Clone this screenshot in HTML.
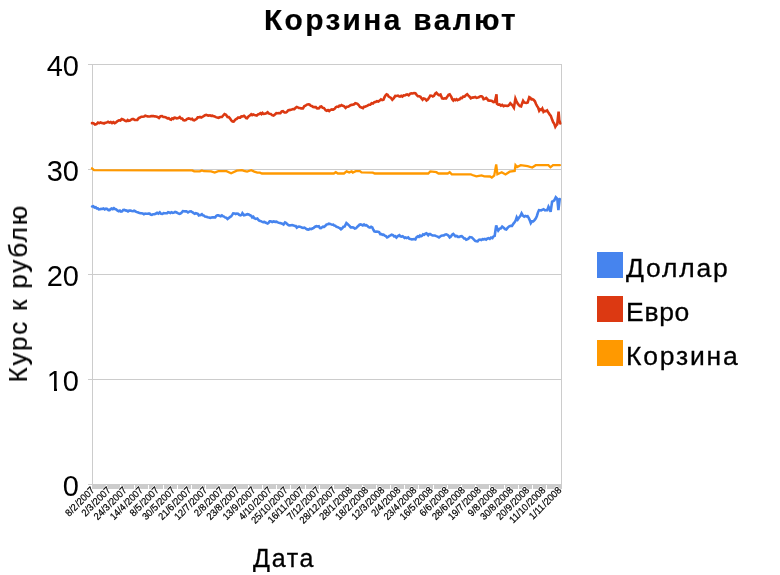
<!DOCTYPE html><html><head><meta charset="utf-8"><style>html,body{margin:0;padding:0;background:#fff;width:780px;height:575px;overflow:hidden}svg{display:block}text{font-family:"Liberation Sans",sans-serif}</style></head><body>
<svg width="780" height="575" viewBox="0 0 780 575">
<rect width="780" height="575" fill="#fff"/>
<rect x="88" y="64" width="474" height="1" fill="#cccccc"/>
<rect x="88" y="169" width="474" height="1" fill="#cccccc"/>
<rect x="88" y="274" width="474" height="1" fill="#cccccc"/>
<rect x="88" y="379" width="474" height="1" fill="#cccccc"/>
<rect x="88" y="484" width="474" height="1" fill="#cccccc"/>
<rect x="92" y="64" width="1" height="421" fill="#cccccc"/>
<rect x="561" y="64" width="1" height="421" fill="#cccccc"/>
<rect x="92" y="485" width="470" height="4" fill="#cccccc"/>
<rect x="106" y="485" width="1" height="4" fill="#fff"/>
<rect x="120" y="485" width="1" height="4" fill="#fff"/>
<rect x="134" y="485" width="1" height="4" fill="#fff"/>
<rect x="148" y="485" width="1" height="4" fill="#fff"/>
<rect x="163" y="485" width="1" height="4" fill="#fff"/>
<rect x="177" y="485" width="1" height="4" fill="#fff"/>
<rect x="191" y="485" width="1" height="4" fill="#fff"/>
<rect x="205" y="485" width="1" height="4" fill="#fff"/>
<rect x="219" y="485" width="1" height="4" fill="#fff"/>
<rect x="234" y="485" width="1" height="4" fill="#fff"/>
<rect x="248" y="485" width="1" height="4" fill="#fff"/>
<rect x="262" y="485" width="1" height="4" fill="#fff"/>
<rect x="276" y="485" width="1" height="4" fill="#fff"/>
<rect x="290" y="485" width="1" height="4" fill="#fff"/>
<rect x="305" y="485" width="1" height="4" fill="#fff"/>
<rect x="319" y="485" width="1" height="4" fill="#fff"/>
<rect x="333" y="485" width="1" height="4" fill="#fff"/>
<rect x="347" y="485" width="1" height="4" fill="#fff"/>
<rect x="362" y="485" width="1" height="4" fill="#fff"/>
<rect x="376" y="485" width="1" height="4" fill="#fff"/>
<rect x="390" y="485" width="1" height="4" fill="#fff"/>
<rect x="404" y="485" width="1" height="4" fill="#fff"/>
<rect x="418" y="485" width="1" height="4" fill="#fff"/>
<rect x="433" y="485" width="1" height="4" fill="#fff"/>
<rect x="447" y="485" width="1" height="4" fill="#fff"/>
<rect x="461" y="485" width="1" height="4" fill="#fff"/>
<rect x="475" y="485" width="1" height="4" fill="#fff"/>
<rect x="489" y="485" width="1" height="4" fill="#fff"/>
<rect x="504" y="485" width="1" height="4" fill="#fff"/>
<rect x="518" y="485" width="1" height="4" fill="#fff"/>
<rect x="532" y="485" width="1" height="4" fill="#fff"/>
<rect x="546" y="485" width="1" height="4" fill="#fff"/>
<path d="M92.0,123.1 L93.5,123.2 L95.0,124.5 L96.5,124.1 L98.0,122.6 L99.2,123.1 L100.5,122.5 L101.8,123.0 L103.0,123.1 L104.0,123.5 L105.3,122.8 L106.7,122.5 L108.0,121.7 L109.3,122.6 L110.7,122.0 L112.0,123.1 L113.3,122.1 L114.7,123.1 L116.0,122.3 L117.5,121.2 L119.0,120.3 L120.3,120.5 L121.7,119.0 L123.0,119.5 L124.2,120.2 L125.5,121.0 L126.6,121.1 L127.7,120.0 L128.8,120.9 L129.9,120.6 L131.0,119.7 L132.2,119.0 L133.5,119.1 L134.8,120.0 L136.0,120.0 L137.3,119.9 L138.7,118.1 L140.0,117.5 L141.3,116.7 L142.7,116.7 L144.0,116.5 L145.2,115.7 L146.4,116.1 L147.6,116.4 L148.8,116.5 L150.0,116.5 L151.2,116.1 L152.4,116.1 L153.6,116.1 L154.8,116.4 L156.0,116.5 L157.5,116.9 L159.0,118.0 L160.5,116.2 L162.0,116.0 L163.3,117.0 L164.7,117.0 L166.0,117.4 L167.4,118.3 L168.7,118.2 L170.1,119.4 L171.1,119.7 L172.2,118.4 L173.3,118.9 L174.4,117.6 L175.5,117.8 L176.6,118.4 L177.7,118.2 L178.8,117.8 L179.8,117.0 L181.0,118.5 L182.2,118.6 L183.3,120.1 L184.5,120.4 L185.9,120.0 L187.2,118.8 L188.6,118.4 L189.8,118.7 L191.0,119.3 L192.2,118.8 L193.2,120.2 L194.2,120.4 L195.3,119.7 L196.5,119.0 L197.7,117.4 L198.8,117.4 L200.0,116.9 L201.2,117.6 L202.4,117.0 L203.7,116.0 L205.0,115.3 L206.3,114.8 L207.6,115.4 L208.8,115.6 L210.1,115.3 L211.1,115.8 L212.2,115.6 L213.2,116.0 L214.6,116.4 L215.9,117.1 L217.3,117.6 L218.5,117.9 L219.6,117.3 L220.8,117.0 L221.9,117.0 L223.2,115.5 L224.5,114.0 L226.0,114.7 L227.5,117.0 L228.8,117.1 L230.1,118.6 L231.3,120.4 L232.5,121.5 L233.6,121.6 L234.7,120.3 L235.7,119.3 L236.8,118.8 L238.0,117.6 L239.1,117.6 L240.2,117.7 L241.4,116.3 L242.7,116.5 L244.0,115.8 L245.0,116.7 L246.1,118.0 L247.1,118.3 L248.5,116.5 L249.8,115.6 L251.2,114.2 L252.2,115.1 L253.2,114.5 L254.4,115.0 L255.6,115.2 L256.8,115.6 L258.0,114.4 L259.2,114.1 L260.4,113.2 L261.4,114.2 L262.5,112.9 L263.5,113.9 L264.9,113.8 L266.2,113.3 L267.6,112.2 L268.6,113.4 L269.7,113.7 L270.7,113.9 L272.1,115.2 L273.5,115.6 L274.9,114.4 L276.3,113.2 L277.7,113.3 L279.0,113.1 L280.4,113.2 L281.7,111.5 L283.0,111.2 L284.5,112.4 L286.0,112.5 L287.0,111.8 L288.1,110.4 L289.1,110.1 L290.4,109.9 L291.7,109.6 L293.0,109.1 L294.3,109.1 L295.6,107.8 L296.8,107.0 L297.8,107.4 L298.9,107.9 L299.9,108.1 L300.9,108.4 L302.0,108.2 L303.0,108.4 L304.2,106.3 L305.5,105.7 L306.9,104.6 L308.4,104.3 L309.5,104.4 L310.6,105.6 L311.7,106.0 L313.1,106.9 L314.4,107.1 L315.8,107.0 L316.8,108.2 L317.8,108.4 L319.0,108.3 L320.2,106.7 L321.4,106.5 L322.7,107.8 L324.0,108.1 L325.6,110.3 L326.8,110.8 L328.0,110.1 L329.2,111.0 L330.6,109.8 L331.9,109.4 L333.3,109.7 L334.6,108.9 L335.8,107.2 L337.1,106.6 L338.4,106.9 L339.4,105.7 L340.5,105.9 L341.5,105.1 L342.9,105.8 L344.2,106.3 L345.6,107.9 L346.8,106.8 L348.0,106.8 L349.2,106.2 L350.4,105.2 L351.6,104.9 L352.8,104.8 L354.1,104.3 L355.3,103.1 L356.4,103.4 L357.4,103.8 L358.7,105.1 L360.0,106.9 L361.5,107.5 L363.0,108.2 L364.0,106.8 L365.1,106.7 L366.1,106.2 L367.5,105.6 L368.8,104.8 L370.2,104.8 L371.6,103.3 L372.9,103.6 L374.3,102.1 L375.7,101.9 L377.0,101.2 L378.4,101.5 L379.7,100.6 L381.0,99.3 L382.2,100.0 L383.5,99.7 L384.5,97.2 L385.6,95.4 L386.6,94.4 L387.6,94.8 L388.7,96.6 L389.7,97.2 L391.0,97.9 L392.3,99.7 L393.8,98.1 L395.3,95.9 L396.6,96.0 L397.9,95.6 L398.9,96.2 L400.0,96.6 L401.2,95.8 L402.4,96.6 L403.6,95.4 L404.8,95.5 L406.0,94.8 L407.2,94.4 L408.7,95.4 L410.0,93.9 L411.3,93.3 L412.7,93.5 L414.0,93.1 L415.4,93.3 L416.6,94.9 L417.9,96.2 L419.2,96.3 L420.5,96.9 L421.6,98.5 L422.6,99.7 L423.6,98.5 L424.6,98.7 L425.6,99.3 L426.5,100.5 L427.8,99.6 L429.0,97.8 L430.3,95.6 L431.6,95.7 L432.8,96.4 L434.0,95.8 L435.2,93.7 L436.4,92.8 L437.9,94.4 L439.2,95.2 L440.5,94.6 L442.1,98.3 L443.5,98.7 L444.8,98.2 L446.2,98.3 L447.4,96.6 L448.5,94.9 L449.7,94.4 L451.3,96.9 L452.3,99.3 L453.3,100.5 L454.3,99.4 L455.4,100.2 L456.4,99.3 L457.4,100.1 L458.5,99.5 L459.5,99.5 L460.7,98.0 L461.9,98.2 L463.1,96.6 L464.5,96.6 L465.8,95.3 L467.2,94.2 L468.4,95.6 L469.6,96.7 L470.8,98.3 L472.3,97.6 L473.8,97.4 L475.2,97.0 L476.5,97.8 L477.9,97.6 L479.1,97.0 L480.4,96.2 L481.6,96.2 L482.6,97.1 L483.6,99.2 L484.9,98.9 L486.2,98.0 L487.2,98.9 L488.3,100.5 L489.8,100.6 L491.3,100.8 L492.4,101.2 L493.4,102.1 L494.9,101.8 L496.5,94.3 L497.0,103.8 L498.2,104.7 L499.5,104.4 L500.9,105.6 L502.2,104.8 L503.6,106.2 L504.8,105.6 L506.0,105.7 L507.2,105.9 L508.2,105.8 L509.3,104.6 L510.3,103.3 L511.5,104.5 L512.7,105.7 L513.9,107.6 L515.4,98.7 L516.5,101.3 L517.5,103.3 L518.7,104.9 L519.9,106.1 L521.1,106.4 L522.1,103.4 L523.1,100.8 L524.2,102.4 L525.2,102.8 L526.5,102.9 L527.7,102.5 L529.3,97.2 L530.3,97.8 L531.4,99.3 L532.4,99.2 L533.6,99.8 L534.9,101.3 L536.0,104.0 L537.0,105.9 L538.1,107.6 L539.2,110.7 L540.2,109.4 L541.3,109.9 L542.3,108.5 L543.5,111.9 L544.7,110.9 L545.9,111.2 L547.1,110.3 L548.7,113.1 L549.8,114.6 L550.8,115.8 L552.3,120.1 L553.2,122.3 L554.1,123.4 L555.3,126.8 L556.2,125.3 L557.2,124.3 L558.6,111.6 L559.3,120.1 L560.2,123.4" fill="none" stroke="#DC3912" stroke-width="2.6" stroke-linejoin="miter" stroke-miterlimit="4" stroke-linecap="round"/>
<path d="M92.0,168.3 L94.0,170.1 L166.0,170.4 L192.2,170.4 L194.2,171.4 L199.8,171.4 L201.9,170.4 L203.9,171.2 L211.1,171.4 L214.7,172.6 L218.3,171.2 L226.5,171.2 L231.1,173.3 L236.8,170.6 L241.9,170.2 L244.0,170.9 L247.1,171.6 L251.2,170.2 L254.3,171.6 L257.3,172.6 L259.9,172.6 L261.9,173.5 L333.8,173.5 L335.8,172.2 L337.9,173.5 L344.0,173.5 L346.6,171.4 L349.2,172.4 L351.7,171.4 L352.8,172.6 L355.8,171.2 L359.9,171.2 L361.5,172.4 L372.8,172.6 L374.8,173.5 L428.2,173.5 L430.3,171.4 L436.4,172.2 L438.5,173.5 L447.7,173.5 L449.7,172.2 L451.8,174.3 L470.8,174.3 L472.3,175.0 L476.4,176.3 L481.5,175.4 L484.3,176.3 L490.1,176.5 L491.8,177.5 L494.2,175.6 L496.2,164.4 L497.4,174.2 L498.5,173.7 L501.7,172.2 L505.5,174.5 L509.7,171.7 L514.7,171.0 L515.5,165.2 L517.2,167.1 L520.7,165.2 L527.6,166.2 L532.2,167.5 L535.7,165.2 L548.4,165.2 L550.5,167.3 L553.0,165.2 L559.9,165.2" fill="none" stroke="#FF9900" stroke-width="2.3" stroke-linejoin="miter" stroke-miterlimit="4" stroke-linecap="round"/>
<path d="M92.1,206.5 L93.3,206.2 L94.5,207.6 L95.7,207.3 L96.7,208.4 L97.8,208.3 L98.8,209.4 L100.0,209.2 L101.1,208.9 L102.2,209.0 L103.4,208.5 L104.7,209.4 L106.0,208.7 L107.2,209.0 L108.5,210.2 L109.5,210.2 L110.6,209.0 L111.6,208.5 L112.8,209.1 L113.9,208.2 L115.0,209.1 L116.2,209.4 L117.5,210.7 L118.8,211.2 L119.9,210.6 L121.0,211.6 L122.1,211.4 L123.2,209.9 L124.3,209.8 L125.4,210.4 L126.7,210.6 L128.0,211.4 L129.2,210.6 L130.5,210.5 L131.8,210.9 L133.1,211.2 L134.1,210.7 L135.2,211.2 L136.2,211.9 L137.6,212.3 L138.9,212.8 L140.3,213.3 L141.5,213.2 L142.7,213.5 L143.9,214.3 L145.1,213.7 L146.3,213.8 L147.5,213.7 L148.5,213.6 L149.6,213.5 L150.6,214.5 L151.9,214.8 L153.1,214.2 L154.4,214.1 L155.7,213.7 L157.1,212.8 L158.4,213.6 L159.8,212.4 L161.1,213.8 L162.4,214.0 L163.6,213.2 L164.8,213.3 L166.0,213.3 L167.1,213.2 L168.1,212.3 L169.3,212.6 L170.4,213.0 L171.6,212.2 L172.8,212.8 L174.0,212.6 L175.1,212.0 L176.3,212.3 L177.8,213.2 L179.3,213.8 L180.5,213.5 L181.7,212.6 L182.9,211.1 L184.1,211.2 L185.3,211.4 L186.5,211.3 L188.0,212.5 L189.6,211.5 L191.0,211.3 L192.3,212.2 L193.7,213.1 L194.7,213.7 L195.8,213.2 L196.8,213.5 L197.8,213.9 L198.8,215.4 L199.8,215.1 L200.9,214.9 L201.9,214.2 L202.9,215.3 L204.0,215.6 L205.0,216.6 L206.4,216.8 L207.7,217.3 L209.1,217.6 L210.3,218.0 L211.5,217.6 L212.8,217.3 L214.0,217.4 L215.2,217.4 L216.2,216.0 L217.3,215.3 L218.3,215.4 L219.5,215.7 L220.7,216.2 L221.9,215.4 L222.9,216.2 L224.0,216.6 L225.0,217.4 L226.2,217.7 L227.5,219.0 L228.8,218.0 L230.1,216.9 L231.1,216.5 L232.2,214.9 L233.2,213.3 L234.4,213.4 L235.6,214.0 L236.8,213.5 L238.0,213.7 L239.2,214.8 L240.4,215.4 L241.4,215.0 L242.4,213.1 L244.0,215.3 L245.2,215.1 L246.4,214.5 L247.6,214.2 L248.8,214.4 L250.0,215.3 L251.2,215.8 L252.2,217.4 L253.3,216.7 L254.3,218.3 L255.8,218.9 L257.3,218.5 L258.3,219.8 L259.4,220.7 L260.4,220.9 L261.8,221.6 L263.1,222.1 L264.5,221.9 L265.5,222.5 L266.6,223.1 L267.6,223.5 L268.6,222.7 L269.7,221.4 L270.7,221.4 L272.2,222.0 L273.7,221.4 L275.1,221.8 L276.4,221.6 L277.8,222.4 L278.8,222.7 L279.9,223.0 L280.9,223.3 L282.2,223.7 L283.5,224.5 L285.0,222.4 L286.2,223.1 L287.4,224.4 L288.6,225.3 L289.8,225.4 L291.0,225.3 L292.2,225.0 L293.5,225.4 L294.8,226.0 L295.8,226.0 L296.8,227.6 L297.8,226.9 L298.9,226.5 L299.9,226.7 L301.0,227.1 L302.2,227.7 L303.4,227.9 L304.5,227.6 L305.9,228.7 L307.2,229.4 L308.6,229.6 L309.9,228.8 L311.1,229.2 L312.4,228.5 L313.7,227.8 L315.1,226.7 L316.4,226.2 L317.8,226.5 L318.8,226.3 L319.9,228.0 L320.9,228.1 L322.0,227.3 L323.0,226.7 L324.1,226.9 L325.4,225.8 L326.6,224.4 L327.8,224.2 L328.9,223.7 L330.1,223.9 L331.2,224.4 L332.2,224.8 L333.3,224.7 L334.3,225.6 L335.3,225.7 L336.4,226.8 L337.4,226.9 L338.6,227.6 L339.8,228.2 L341.0,229.3 L342.2,228.4 L343.4,226.7 L344.6,226.6 L346.4,223.1 L347.5,224.0 L348.7,225.2 L349.7,226.2 L350.7,227.4 L352.1,227.3 L353.4,227.5 L354.8,228.5 L356.1,228.2 L357.4,226.6 L358.4,225.9 L359.5,224.7 L360.5,224.4 L361.6,224.8 L362.8,225.4 L364.0,224.4 L365.1,225.4 L366.3,225.2 L367.5,226.0 L368.7,227.2 L369.9,227.6 L371.1,226.8 L372.3,227.4 L373.3,229.7 L374.3,231.3 L375.5,231.7 L376.7,231.6 L377.9,231.7 L379.1,232.1 L380.3,234.1 L381.5,234.1 L382.5,234.8 L383.5,234.6 L384.7,235.6 L385.9,236.1 L387.1,237.5 L388.2,237.0 L389.4,235.9 L390.6,235.4 L391.7,234.6 L392.9,235.0 L394.0,236.3 L395.2,236.1 L396.4,237.5 L397.9,236.0 L399.4,235.1 L400.4,236.3 L401.5,236.7 L402.6,236.3 L403.6,237.1 L404.6,238.0 L405.7,237.5 L406.7,238.1 L408.2,237.4 L409.4,238.8 L410.6,239.1 L411.8,239.4 L413.0,239.3 L414.2,239.0 L415.4,239.4 L416.6,237.1 L417.9,236.3 L418.9,236.9 L420.0,235.6 L421.0,236.3 L422.1,235.8 L423.1,234.3 L424.2,234.7 L425.4,233.7 L426.5,233.3 L428.2,235.3 L429.2,234.1 L430.3,234.0 L431.4,235.0 L432.6,235.5 L433.8,235.5 L434.9,235.5 L436.3,236.1 L437.6,236.6 L439.0,237.4 L440.2,236.5 L441.4,235.7 L442.6,235.5 L443.8,235.4 L445.0,234.6 L446.2,234.3 L447.4,234.8 L448.5,235.7 L449.7,237.4 L450.9,236.5 L452.1,234.8 L453.3,234.0 L454.4,235.1 L455.4,236.3 L456.7,236.0 L457.9,236.9 L459.2,236.9 L460.5,236.3 L461.7,236.2 L462.9,237.2 L464.1,238.4 L465.1,238.5 L466.2,239.8 L467.2,239.4 L468.4,238.7 L469.7,237.1 L470.7,237.3 L471.8,237.5 L472.8,238.4 L474.0,239.6 L475.2,240.8 L476.4,241.2 L477.6,241.4 L478.8,239.9 L480.0,239.6 L481.3,240.0 L482.6,239.2 L483.8,239.4 L484.9,238.9 L486.1,239.6 L487.2,238.7 L488.5,238.1 L489.8,238.8 L491.1,237.6 L492.4,238.1 L493.5,236.4 L494.7,235.8 L496.2,225.4 L497.2,228.7 L498.2,230.6 L499.5,228.8 L500.9,228.3 L502.2,226.5 L503.6,227.6 L504.9,229.0 L506.3,229.4 L507.8,227.6 L509.2,226.3 L510.6,225.9 L512.0,226.0 L513.5,223.6 L514.9,221.9 L515.8,220.2 L516.7,217.3 L517.8,219.4 L519.1,217.5 L520.3,216.1 L521.6,213.3 L522.9,215.6 L524.2,216.7 L525.3,215.9 L526.5,216.4 L527.6,216.2 L528.7,217.9 L529.7,220.1 L530.8,223.1 L532.0,221.3 L533.2,221.4 L534.5,220.1 L535.7,218.5 L536.8,216.2 L537.9,212.6 L539.0,210.1 L540.0,210.2 L541.1,210.4 L542.1,209.8 L543.6,209.2 L545.1,210.4 L546.2,210.1 L547.3,210.1 L548.5,206.7 L549.7,208.9 L550.6,211.9 L552.1,201.6 L553.2,201.1 L554.3,200.3 L555.8,197.3 L557.3,198.8 L558.4,210.1 L559.7,199.1" fill="none" stroke="#4684EE" stroke-width="2.6" stroke-linejoin="miter" stroke-miterlimit="4" stroke-linecap="round"/>
<rect x="597" y="252" width="26" height="26" fill="#4684EE"/>
<rect x="597" y="296" width="26" height="26" fill="#DC3912"/>
<rect x="597" y="340" width="26" height="26" fill="#FF9900"/>
<g style="filter:grayscale(1)">
<text x="79" y="76" font-size="29" text-anchor="end" fill="#000">40</text>
<text x="79" y="181" font-size="29" text-anchor="end" fill="#000">30</text>
<text x="79" y="286" font-size="29" text-anchor="end" fill="#000">20</text>
<text x="79" y="391" font-size="29" text-anchor="end" fill="#000">10</text>
<text x="79" y="496" font-size="29" text-anchor="end" fill="#000">0</text>
<rect x="47" y="388" width="7" height="3" fill="#fff"/><rect x="57" y="388" width="6" height="3" fill="#fff"/>
<text transform="translate(264,30) scale(1.03,1)" font-size="29" font-weight="bold" letter-spacing="2.3" stroke="#000" stroke-width="0.2" fill="#000">Корзина валют</text>
<text transform="translate(27,382.5) rotate(-90)" font-size="26" letter-spacing="1.8" stroke="#000" stroke-width="0.2" fill="#000">Курс к рублю</text>
<text x="253" y="566.5" font-size="25" letter-spacing="1.7" stroke="#000" stroke-width="0.3" fill="#000">Дата</text>
<text x="626" y="277" font-size="26.5" letter-spacing="1.8" stroke="#000" stroke-width="0.3" fill="#000">Доллар</text>
<text x="626" y="321" font-size="26.5" letter-spacing="0.7" stroke="#000" stroke-width="0.3" fill="#000">Евро</text>
<text x="626" y="365" font-size="26.5" letter-spacing="1.8" stroke="#000" stroke-width="0.3" fill="#000">Корзина</text>
<text transform="translate(95.20,491.00) rotate(-45) scale(0.92,1)" font-size="10" letter-spacing="0" word-spacing="-1.8" text-anchor="end" fill="#fff" stroke="#fff" stroke-width="1.6" stroke-linejoin="round">8/2 /2007</text>
<text transform="translate(95.20,491.00) rotate(-45) scale(0.92,1)" font-size="10" letter-spacing="0" word-spacing="-1.8" text-anchor="end" fill="#000" stroke="#000" stroke-width="0.22">8/2 /2007</text>
<text transform="translate(111.30,491.00) rotate(-45) scale(0.92,1)" font-size="10" letter-spacing="0" word-spacing="-1.8" text-anchor="end" fill="#fff" stroke="#fff" stroke-width="1.6" stroke-linejoin="round">2/3 /2007</text>
<text transform="translate(111.30,491.00) rotate(-45) scale(0.92,1)" font-size="10" letter-spacing="0" word-spacing="-1.8" text-anchor="end" fill="#000" stroke="#000" stroke-width="0.22">2/3 /2007</text>
<text transform="translate(127.40,491.00) rotate(-45) scale(0.92,1)" font-size="10" letter-spacing="0" word-spacing="-1.8" text-anchor="end" fill="#fff" stroke="#fff" stroke-width="1.6" stroke-linejoin="round">24/3 /2007</text>
<text transform="translate(127.40,491.00) rotate(-45) scale(0.92,1)" font-size="10" letter-spacing="0" word-spacing="-1.8" text-anchor="end" fill="#000" stroke="#000" stroke-width="0.22">24/3 /2007</text>
<text transform="translate(143.50,491.00) rotate(-45) scale(0.92,1)" font-size="10" letter-spacing="0" word-spacing="-1.8" text-anchor="end" fill="#fff" stroke="#fff" stroke-width="1.6" stroke-linejoin="round">14/4 /2007</text>
<text transform="translate(143.50,491.00) rotate(-45) scale(0.92,1)" font-size="10" letter-spacing="0" word-spacing="-1.8" text-anchor="end" fill="#000" stroke="#000" stroke-width="0.22">14/4 /2007</text>
<text transform="translate(159.60,491.00) rotate(-45) scale(0.92,1)" font-size="10" letter-spacing="0" word-spacing="-1.8" text-anchor="end" fill="#fff" stroke="#fff" stroke-width="1.6" stroke-linejoin="round">8/5 /2007</text>
<text transform="translate(159.60,491.00) rotate(-45) scale(0.92,1)" font-size="10" letter-spacing="0" word-spacing="-1.8" text-anchor="end" fill="#000" stroke="#000" stroke-width="0.22">8/5 /2007</text>
<text transform="translate(175.70,491.00) rotate(-45) scale(0.92,1)" font-size="10" letter-spacing="0" word-spacing="-1.8" text-anchor="end" fill="#fff" stroke="#fff" stroke-width="1.6" stroke-linejoin="round">30/5 /2007</text>
<text transform="translate(175.70,491.00) rotate(-45) scale(0.92,1)" font-size="10" letter-spacing="0" word-spacing="-1.8" text-anchor="end" fill="#000" stroke="#000" stroke-width="0.22">30/5 /2007</text>
<text transform="translate(191.80,491.00) rotate(-45) scale(0.92,1)" font-size="10" letter-spacing="0" word-spacing="-1.8" text-anchor="end" fill="#fff" stroke="#fff" stroke-width="1.6" stroke-linejoin="round">21/6 /2007</text>
<text transform="translate(191.80,491.00) rotate(-45) scale(0.92,1)" font-size="10" letter-spacing="0" word-spacing="-1.8" text-anchor="end" fill="#000" stroke="#000" stroke-width="0.22">21/6 /2007</text>
<text transform="translate(207.90,491.00) rotate(-45) scale(0.92,1)" font-size="10" letter-spacing="0" word-spacing="-1.8" text-anchor="end" fill="#fff" stroke="#fff" stroke-width="1.6" stroke-linejoin="round">12/7 /2007</text>
<text transform="translate(207.90,491.00) rotate(-45) scale(0.92,1)" font-size="10" letter-spacing="0" word-spacing="-1.8" text-anchor="end" fill="#000" stroke="#000" stroke-width="0.22">12/7 /2007</text>
<text transform="translate(224.00,491.00) rotate(-45) scale(0.92,1)" font-size="10" letter-spacing="0" word-spacing="-1.8" text-anchor="end" fill="#fff" stroke="#fff" stroke-width="1.6" stroke-linejoin="round">2/8 /2007</text>
<text transform="translate(224.00,491.00) rotate(-45) scale(0.92,1)" font-size="10" letter-spacing="0" word-spacing="-1.8" text-anchor="end" fill="#000" stroke="#000" stroke-width="0.22">2/8 /2007</text>
<text transform="translate(240.10,491.00) rotate(-45) scale(0.92,1)" font-size="10" letter-spacing="0" word-spacing="-1.8" text-anchor="end" fill="#fff" stroke="#fff" stroke-width="1.6" stroke-linejoin="round">23/8 /2007</text>
<text transform="translate(240.10,491.00) rotate(-45) scale(0.92,1)" font-size="10" letter-spacing="0" word-spacing="-1.8" text-anchor="end" fill="#000" stroke="#000" stroke-width="0.22">23/8 /2007</text>
<text transform="translate(256.20,491.00) rotate(-45) scale(0.92,1)" font-size="10" letter-spacing="0" word-spacing="-1.8" text-anchor="end" fill="#fff" stroke="#fff" stroke-width="1.6" stroke-linejoin="round">13/9 /2007</text>
<text transform="translate(256.20,491.00) rotate(-45) scale(0.92,1)" font-size="10" letter-spacing="0" word-spacing="-1.8" text-anchor="end" fill="#000" stroke="#000" stroke-width="0.22">13/9 /2007</text>
<text transform="translate(272.30,491.00) rotate(-45) scale(0.92,1)" font-size="10" letter-spacing="0" word-spacing="-1.8" text-anchor="end" fill="#fff" stroke="#fff" stroke-width="1.6" stroke-linejoin="round">4/10 /2007</text>
<text transform="translate(272.30,491.00) rotate(-45) scale(0.92,1)" font-size="10" letter-spacing="0" word-spacing="-1.8" text-anchor="end" fill="#000" stroke="#000" stroke-width="0.22">4/10 /2007</text>
<text transform="translate(288.40,491.00) rotate(-45) scale(0.92,1)" font-size="10" letter-spacing="0" word-spacing="-1.8" text-anchor="end" fill="#fff" stroke="#fff" stroke-width="1.6" stroke-linejoin="round">25/10 /2007</text>
<text transform="translate(288.40,491.00) rotate(-45) scale(0.92,1)" font-size="10" letter-spacing="0" word-spacing="-1.8" text-anchor="end" fill="#000" stroke="#000" stroke-width="0.22">25/10 /2007</text>
<text transform="translate(304.50,491.00) rotate(-45) scale(0.92,1)" font-size="10" letter-spacing="0" word-spacing="-1.8" text-anchor="end" fill="#fff" stroke="#fff" stroke-width="1.6" stroke-linejoin="round">16/11 /2007</text>
<text transform="translate(304.50,491.00) rotate(-45) scale(0.92,1)" font-size="10" letter-spacing="0" word-spacing="-1.8" text-anchor="end" fill="#000" stroke="#000" stroke-width="0.22">16/11 /2007</text>
<text transform="translate(320.60,491.00) rotate(-45) scale(0.92,1)" font-size="10" letter-spacing="0" word-spacing="-1.8" text-anchor="end" fill="#fff" stroke="#fff" stroke-width="1.6" stroke-linejoin="round">7/12 /2007</text>
<text transform="translate(320.60,491.00) rotate(-45) scale(0.92,1)" font-size="10" letter-spacing="0" word-spacing="-1.8" text-anchor="end" fill="#000" stroke="#000" stroke-width="0.22">7/12 /2007</text>
<text transform="translate(336.70,491.00) rotate(-45) scale(0.92,1)" font-size="10" letter-spacing="0" word-spacing="-1.8" text-anchor="end" fill="#fff" stroke="#fff" stroke-width="1.6" stroke-linejoin="round">28/12 /2007</text>
<text transform="translate(336.70,491.00) rotate(-45) scale(0.92,1)" font-size="10" letter-spacing="0" word-spacing="-1.8" text-anchor="end" fill="#000" stroke="#000" stroke-width="0.22">28/12 /2007</text>
<text transform="translate(352.80,491.00) rotate(-45) scale(0.92,1)" font-size="10" letter-spacing="0" word-spacing="-1.8" text-anchor="end" fill="#fff" stroke="#fff" stroke-width="1.6" stroke-linejoin="round">28/1 /2008</text>
<text transform="translate(352.80,491.00) rotate(-45) scale(0.92,1)" font-size="10" letter-spacing="0" word-spacing="-1.8" text-anchor="end" fill="#000" stroke="#000" stroke-width="0.22">28/1 /2008</text>
<text transform="translate(368.90,491.00) rotate(-45) scale(0.92,1)" font-size="10" letter-spacing="0" word-spacing="-1.8" text-anchor="end" fill="#fff" stroke="#fff" stroke-width="1.6" stroke-linejoin="round">18/2 /2008</text>
<text transform="translate(368.90,491.00) rotate(-45) scale(0.92,1)" font-size="10" letter-spacing="0" word-spacing="-1.8" text-anchor="end" fill="#000" stroke="#000" stroke-width="0.22">18/2 /2008</text>
<text transform="translate(385.00,491.00) rotate(-45) scale(0.92,1)" font-size="10" letter-spacing="0" word-spacing="-1.8" text-anchor="end" fill="#fff" stroke="#fff" stroke-width="1.6" stroke-linejoin="round">12/3 /2008</text>
<text transform="translate(385.00,491.00) rotate(-45) scale(0.92,1)" font-size="10" letter-spacing="0" word-spacing="-1.8" text-anchor="end" fill="#000" stroke="#000" stroke-width="0.22">12/3 /2008</text>
<text transform="translate(401.10,491.00) rotate(-45) scale(0.92,1)" font-size="10" letter-spacing="0" word-spacing="-1.8" text-anchor="end" fill="#fff" stroke="#fff" stroke-width="1.6" stroke-linejoin="round">2/4 /2008</text>
<text transform="translate(401.10,491.00) rotate(-45) scale(0.92,1)" font-size="10" letter-spacing="0" word-spacing="-1.8" text-anchor="end" fill="#000" stroke="#000" stroke-width="0.22">2/4 /2008</text>
<text transform="translate(417.20,491.00) rotate(-45) scale(0.92,1)" font-size="10" letter-spacing="0" word-spacing="-1.8" text-anchor="end" fill="#fff" stroke="#fff" stroke-width="1.6" stroke-linejoin="round">23/4 /2008</text>
<text transform="translate(417.20,491.00) rotate(-45) scale(0.92,1)" font-size="10" letter-spacing="0" word-spacing="-1.8" text-anchor="end" fill="#000" stroke="#000" stroke-width="0.22">23/4 /2008</text>
<text transform="translate(433.30,491.00) rotate(-45) scale(0.92,1)" font-size="10" letter-spacing="0" word-spacing="-1.8" text-anchor="end" fill="#fff" stroke="#fff" stroke-width="1.6" stroke-linejoin="round">16/5 /2008</text>
<text transform="translate(433.30,491.00) rotate(-45) scale(0.92,1)" font-size="10" letter-spacing="0" word-spacing="-1.8" text-anchor="end" fill="#000" stroke="#000" stroke-width="0.22">16/5 /2008</text>
<text transform="translate(449.40,491.00) rotate(-45) scale(0.92,1)" font-size="10" letter-spacing="0" word-spacing="-1.8" text-anchor="end" fill="#fff" stroke="#fff" stroke-width="1.6" stroke-linejoin="round">6/6 /2008</text>
<text transform="translate(449.40,491.00) rotate(-45) scale(0.92,1)" font-size="10" letter-spacing="0" word-spacing="-1.8" text-anchor="end" fill="#000" stroke="#000" stroke-width="0.22">6/6 /2008</text>
<text transform="translate(465.50,491.00) rotate(-45) scale(0.92,1)" font-size="10" letter-spacing="0" word-spacing="-1.8" text-anchor="end" fill="#fff" stroke="#fff" stroke-width="1.6" stroke-linejoin="round">28/6 /2008</text>
<text transform="translate(465.50,491.00) rotate(-45) scale(0.92,1)" font-size="10" letter-spacing="0" word-spacing="-1.8" text-anchor="end" fill="#000" stroke="#000" stroke-width="0.22">28/6 /2008</text>
<text transform="translate(481.60,491.00) rotate(-45) scale(0.92,1)" font-size="10" letter-spacing="0" word-spacing="-1.8" text-anchor="end" fill="#fff" stroke="#fff" stroke-width="1.6" stroke-linejoin="round">19/7 /2008</text>
<text transform="translate(481.60,491.00) rotate(-45) scale(0.92,1)" font-size="10" letter-spacing="0" word-spacing="-1.8" text-anchor="end" fill="#000" stroke="#000" stroke-width="0.22">19/7 /2008</text>
<text transform="translate(497.70,491.00) rotate(-45) scale(0.92,1)" font-size="10" letter-spacing="0" word-spacing="-1.8" text-anchor="end" fill="#fff" stroke="#fff" stroke-width="1.6" stroke-linejoin="round">9/8 /2008</text>
<text transform="translate(497.70,491.00) rotate(-45) scale(0.92,1)" font-size="10" letter-spacing="0" word-spacing="-1.8" text-anchor="end" fill="#000" stroke="#000" stroke-width="0.22">9/8 /2008</text>
<text transform="translate(513.80,491.00) rotate(-45) scale(0.92,1)" font-size="10" letter-spacing="0" word-spacing="-1.8" text-anchor="end" fill="#fff" stroke="#fff" stroke-width="1.6" stroke-linejoin="round">30/8 /2008</text>
<text transform="translate(513.80,491.00) rotate(-45) scale(0.92,1)" font-size="10" letter-spacing="0" word-spacing="-1.8" text-anchor="end" fill="#000" stroke="#000" stroke-width="0.22">30/8 /2008</text>
<text transform="translate(529.90,491.00) rotate(-45) scale(0.92,1)" font-size="10" letter-spacing="0" word-spacing="-1.8" text-anchor="end" fill="#fff" stroke="#fff" stroke-width="1.6" stroke-linejoin="round">20/9 /2008</text>
<text transform="translate(529.90,491.00) rotate(-45) scale(0.92,1)" font-size="10" letter-spacing="0" word-spacing="-1.8" text-anchor="end" fill="#000" stroke="#000" stroke-width="0.22">20/9 /2008</text>
<text transform="translate(546.00,491.00) rotate(-45) scale(0.92,1)" font-size="10" letter-spacing="0" word-spacing="-1.8" text-anchor="end" fill="#fff" stroke="#fff" stroke-width="1.6" stroke-linejoin="round">11/10 /2008</text>
<text transform="translate(546.00,491.00) rotate(-45) scale(0.92,1)" font-size="10" letter-spacing="0" word-spacing="-1.8" text-anchor="end" fill="#000" stroke="#000" stroke-width="0.22">11/10 /2008</text>
<text transform="translate(562.10,491.00) rotate(-45) scale(0.92,1)" font-size="10" letter-spacing="0" word-spacing="-1.8" text-anchor="end" fill="#fff" stroke="#fff" stroke-width="1.6" stroke-linejoin="round">1/11 /2008</text>
<text transform="translate(562.10,491.00) rotate(-45) scale(0.92,1)" font-size="10" letter-spacing="0" word-spacing="-1.8" text-anchor="end" fill="#000" stroke="#000" stroke-width="0.22">1/11 /2008</text>
</g>
</svg></body></html>
